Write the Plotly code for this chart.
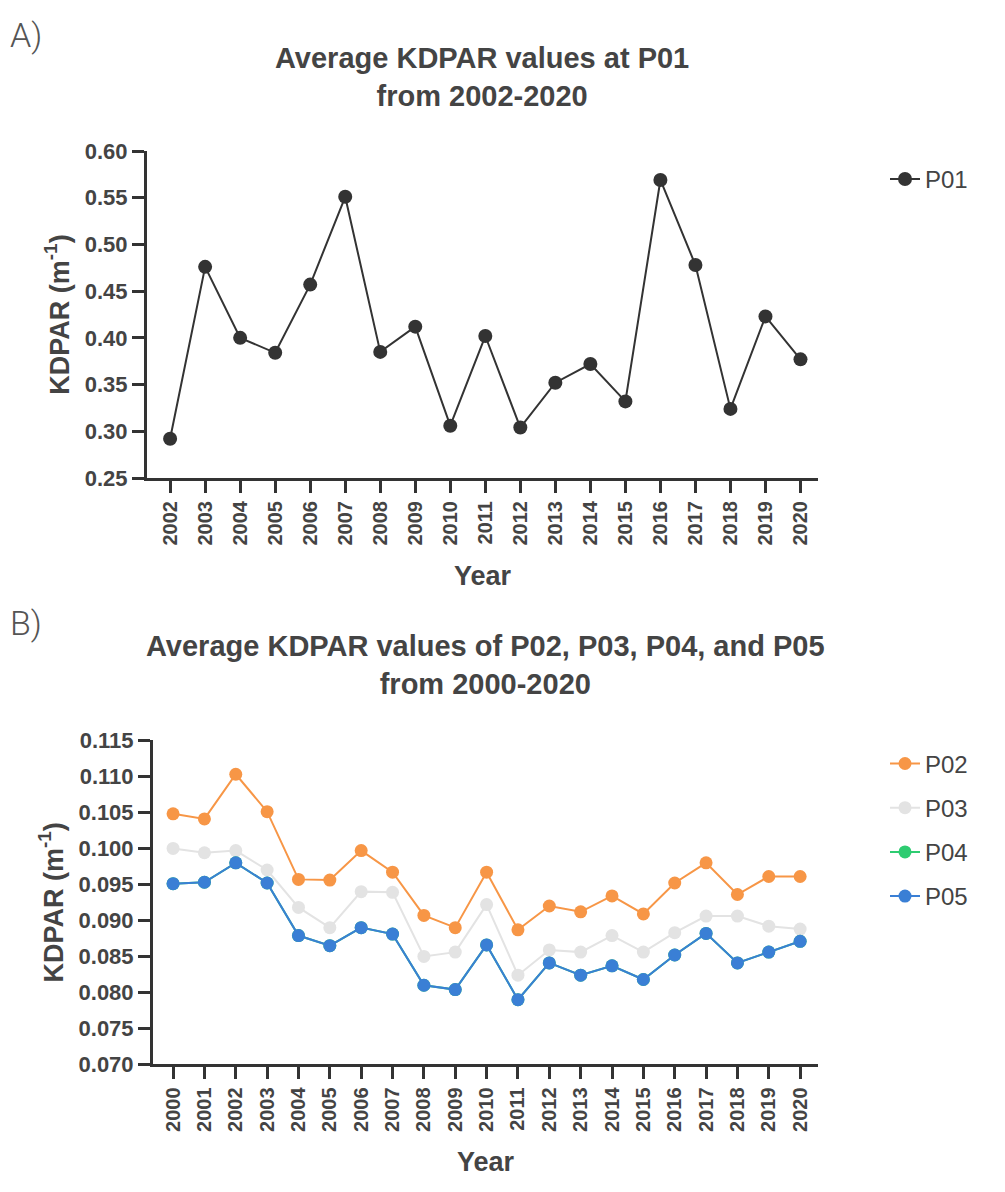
import plotly.graph_objects as go

# ---------------- data ----------------
years_a = [2002, 2003, 2004, 2005, 2006, 2007, 2008, 2009, 2010, 2011,
           2012, 2013, 2014, 2015, 2016, 2017, 2018, 2019, 2020]
p01 = [0.292, 0.476, 0.400, 0.384, 0.457, 0.551, 0.385, 0.412, 0.306, 0.402,
       0.304, 0.352, 0.372, 0.332, 0.569, 0.478, 0.324, 0.423, 0.377]

years_b = list(range(2000, 2021))
p02 = [0.1048, 0.1041, 0.1103, 0.1051, 0.0957, 0.0956, 0.0997, 0.0967, 0.0907, 0.0890,
       0.0967, 0.0887, 0.0920, 0.0912, 0.0934, 0.0909, 0.0952, 0.0980, 0.0936, 0.0961, 0.0961]
p03 = [0.1000, 0.0994, 0.0997, 0.0970, 0.0918, 0.0890, 0.0940, 0.0939, 0.0850, 0.0856,
       0.0922, 0.0824, 0.0859, 0.0856, 0.0879, 0.0856, 0.0883, 0.0906, 0.0906, 0.0892, 0.0888]
p04 = [0.0951, 0.0953, 0.0980, 0.0952, 0.0879, 0.0865, 0.0890, 0.0881, 0.0810, 0.0804,
       0.0866, 0.0790, 0.0841, 0.0824, 0.0837, 0.0818, 0.0852, 0.0882, 0.0841, 0.0856, 0.0871]
p05 = [0.0951, 0.0953, 0.0980, 0.0952, 0.0879, 0.0865, 0.0890, 0.0881, 0.0810, 0.0804,
       0.0866, 0.0790, 0.0841, 0.0824, 0.0837, 0.0818, 0.0852, 0.0882, 0.0841, 0.0856, 0.0871]

yticks_a = [0.25, 0.30, 0.35, 0.40, 0.45, 0.50, 0.55, 0.60]
yticks_b = [0.070, 0.075, 0.080, 0.085, 0.090, 0.095, 0.100, 0.105, 0.110, 0.115]

title_a = "Average KDPAR values at P01<br>from 2002-2020"
title_b = "Average KDPAR values of P02, P03, P04, and P05<br>from 2000-2020"

# ---------------- figure ----------------
W, H = 1005, 1192
AX = "#333333"
TXT = "#444444"
FONT = "Liberation Sans, Arial, sans-serif"

def py(p):
    return 1 - p / H

fig = go.Figure()

fig.add_trace(go.Scatter(x=years_a, y=p01, mode="lines+markers", name="P01",
                         line=dict(color="#333333", width=2),
                         marker=dict(size=14, color="#333333"),
                         xaxis="x", yaxis="y", legend="legend"))

series_b = [("P02", p02, "#F79646"), ("P03", p03, "#E3E3E3"),
            ("P04", p04, "#2ECC71"), ("P05", p05, "#3A7FD5")]
for name, vals, col in series_b:
    fig.add_trace(go.Scatter(x=years_b, y=vals, mode="lines+markers", name=name,
                             line=dict(color=col, width=2),
                             marker=dict(size=13, color=col),
                             xaxis="x2", yaxis="y2", legend="legend2",
                             legendgroup=name))

axis_common = dict(showline=True, linewidth=3, linecolor=AX, ticks="outside",
                   ticklen=12, tickwidth=3, tickcolor=AX, showgrid=False,
                   zeroline=False, mirror=False)

xtickfont = dict(size=20, family=FONT, color=TXT, weight="bold")
ytickfont = dict(size=22, family=FONT, color=TXT, weight="bold")
axtitlefont = dict(size=27, family=FONT, color=TXT)

fig.update_layout(
    width=W, height=H,
    margin=dict(l=0, r=0, t=0, b=0),
    paper_bgcolor="white", plot_bgcolor="white",
    font=dict(family=FONT, color=TXT),
    xaxis=dict(domain=[147 / W, 818 / W], range=[2001.34, 2020.5],
               tickvals=years_a, tickangle=-90, tickfont=xtickfont,
               title=dict(text="<b>Year</b>", font=axtitlefont, standoff=22),
               anchor="y", **axis_common),
    yaxis=dict(domain=[py(476), py(142)], range=[0.25, 0.60],
               tickvals=yticks_a, tickformat=".2f", tickfont=ytickfont,
               title=dict(text="<b>KDPAR (m<sup>-1</sup>)</b>", font=axtitlefont, standoff=8),
               anchor="x", **axis_common),
    xaxis2=dict(domain=[153 / W, 818 / W], range=[1999.36, 2020.57],
                tickvals=years_b, tickangle=-90, tickfont=xtickfont,
                title=dict(text="<b>Year</b>", font=axtitlefont, standoff=22),
                anchor="y2", **axis_common),
    yaxis2=dict(domain=[py(1075), py(744)], range=[0.070, 0.115],
                tickvals=yticks_b, tickformat=".3f", tickfont=ytickfont,
                title=dict(text="<b>KDPAR (m<sup>-1</sup>)</b>", font=axtitlefont, standoff=8),
                anchor="x2", **axis_common),
    legend=dict(x=885 / W, y=py(148), xanchor="left", yanchor="top",
                font=dict(size=24, color=TXT), bgcolor="rgba(0,0,0,0)"),
    legend2=dict(x=885 / W, y=py(745), xanchor="left", yanchor="top",
                 font=dict(size=24, color=TXT), bgcolor="rgba(0,0,0,0)",
                 tracegroupgap=10),
    showlegend=True,
)

annots = [
    dict(text=title_a, x=482 / W, y=py(66), font=dict(size=29, color=TXT, weight="bold")),
    dict(text=title_b, x=485 / W, y=py(667), font=dict(size=29, color=TXT, weight="bold")),
    dict(text="A)", x=8 / W, y=py(24), xanchor="left",
         font=dict(size=34, color="#555555", family="Roboto", weight=300)),
    dict(text="B)", x=8 / W, y=py(624), xanchor="left",
         font=dict(size=34, color="#555555", family="Roboto", weight=300)),
]
for a in annots:
    a.setdefault("xanchor", "center")
    fig.add_annotation(xref="paper", yref="paper", showarrow=False,
                       yanchor="middle", **a)

fig.write_html("out.html")
